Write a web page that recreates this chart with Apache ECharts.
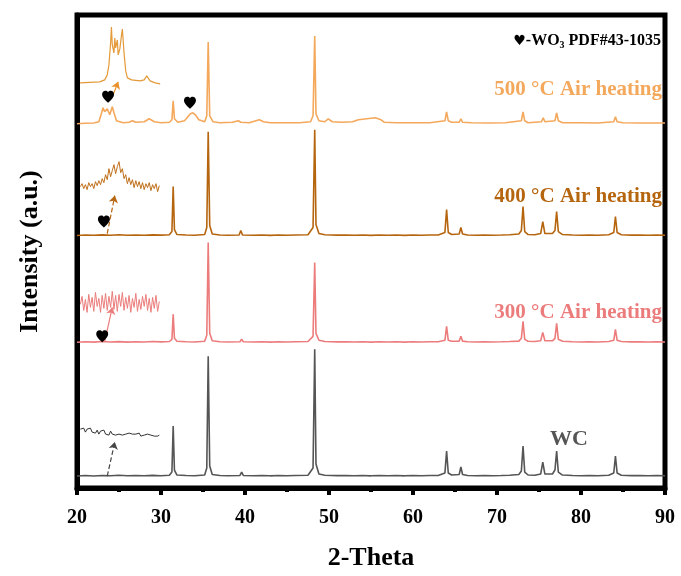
<!DOCTYPE html>
<html>
<head>
<meta charset="utf-8">
<script src="https://cdn.jsdelivr.net/npm/echarts@6/dist/echarts.min.js"></script>
<style>html,body{margin:0;padding:0;background:#fff}#c{width:681px;height:576px}</style>
</head>
<body>
<div id="c"></div>
<script>
// ---- data ----
var xTicks = [20, 30, 40, 50, 60, 70, 80, 90];
var sampleNames = ['WC', '300 °C Air heating', '400 °C Air heating', '500 °C Air heating'];
var offsets = [12, 146, 253, 365];          // vertical stacking offsets (a.u.)
var insetOffsets = [56, 184, 302, 406];

var wcPattern = [
[20,0],[21,0.5],[22,0],[23,0.6],[24,0.2],[25,0.8],[26,0.3],[27,0.6],[28,0.2],[29,0.7],[30,0.3],[31.0,0.8],[31.3,4],[31.45,50],[31.6,6],[31.9,1],
[33,0.5],[34,0.3],[35.2,1],[35.45,8],[35.62,120],[35.8,10],[36.1,1.5],[37,0.5],[38,0.3],[39.4,0.6],[39.6,4],[39.8,0.6],[41,0.3],[42,0.6],[43,0.2],[44,0.5],[45,0.3],[46,0.6],[47.5,0.8],[48.1,8],[48.3,127],[48.45,12],[48.8,2],[49.5,0.8],[51,0.4],[52,0.6],[53,0.3],[54,0.5],[55,0.2],[56,0.6],[57,0.3],[58,0.5],[59,0.2],[60,0.6],[61,0.3],[62,0.5],[63,0.6],[63.8,3],[64.0,25],[64.2,3],[64.6,1],[65.5,1.5],[65.7,9],[65.9,1.5],[66.5,0.5],[67.5,0.3],[68.5,0.6],[69.5,0.3],[70.5,0.5],[71.5,0.8],[72.6,1.5],[72.9,5],[73.1,30],[73.3,4],[73.7,1],[74.5,0.8],[75.2,2],[75.45,14],[75.7,2],[76.6,2],[76.9,6],[77.1,25],[77.3,4],[77.8,1],[79,0.5],[80,0.3],[81,0.6],[82,0.3],[83.3,0.8],[83.9,3],[84.1,20],[84.3,3],[84.8,0.8],[86,0.4],[87,0.6],[88,0.3],[89,0.5],[90,0.3]
];
var p300Pattern = [
[20,0],[21,0.6],[22,0.2],[23,0.8],[24,0.3],[25,0.7],[26,0.2],[27,0.6],[28,0.3],[29,0.8],[30,0.4],[31.0,0.8],[31.3,3],[31.45,28],[31.6,4],[31.9,1],
[33,0.5],[34,0.3],[35.2,1],[35.45,7],[35.62,100],[35.8,9],[36.1,1.5],[37,0.5],[38,0.3],[39.4,0.6],[39.6,3],[39.8,0.6],[41,0.3],[42,0.6],[43,0.2],[44,0.5],[45,0.3],[46,0.6],[47.5,0.8],[48.1,6],[48.3,80],[48.45,9],[48.8,2],[49.5,0.8],[51,0.4],[52,0.6],[53,0.3],[54,0.5],[55,0.2],[56,0.6],[57,0.3],[58,0.5],[59,0.2],[60,0.6],[61,0.3],[62,0.5],[63,0.6],[63.8,2],[64.0,16],[64.2,2],[64.6,1],[65.5,1.2],[65.7,6],[65.9,1.2],[66.5,0.5],[67.5,0.3],[68.5,0.6],[69.5,0.3],[70.5,0.5],[71.5,0.8],[72.6,1.2],[72.9,4],[73.1,21],[73.3,3],[73.7,1],[74.5,0.8],[75.2,1.5],[75.45,10],[75.7,1.5],[76.6,1.5],[76.9,4],[77.1,19],[77.3,3],[77.8,1],[79,0.5],[80,0.3],[81,0.6],[82,0.3],[83.3,0.8],[83.9,2],[84.1,13],[84.3,2],[84.8,0.8],[86,0.4],[87,0.6],[88,0.3],[89,0.5],[90,0.3]
];
var p400Pattern = [
[20,0],[21,0.5],[22,0.3],[23,0.7],[24,0.3],[25,0.8],[26,0.3],[27,0.6],[28,0.3],[29,0.7],[30,0.4],[31.0,0.8],[31.3,4],[31.45,49],[31.6,6],[31.9,1],
[33,0.5],[34,0.3],[35.2,1],[35.45,8],[35.62,104],[35.8,10],[36.1,1.5],[37,0.5],[38,0.3],[39.3,0.6],[39.5,5],[39.7,0.6],[41,0.3],[42,0.6],[43,0.2],[44,0.5],[45,0.3],[46,0.6],[47.5,0.8],[48.1,8],[48.3,106],[48.45,11],[48.8,2],[49.5,0.8],[51,0.4],[52,0.6],[53,0.3],[54,0.5],[55,0.2],[56,0.6],[57,0.3],[58,0.5],[59,0.2],[60,0.6],[61,0.3],[62,0.5],[63,0.6],[63.8,3],[64.0,26],[64.2,3],[64.6,1],[65.5,1.5],[65.7,8],[65.9,1.5],[66.5,0.5],[67.5,0.3],[68.5,0.6],[69.5,0.3],[70.5,0.5],[71.5,0.8],[72.6,1.5],[72.9,5],[73.1,29],[73.3,4],[73.7,1],[74.5,0.8],[75.2,2],[75.45,14],[75.7,2],[76.6,2],[76.9,5],[77.1,24],[77.3,4],[77.8,1],[79,0.5],[80,0.3],[81,0.6],[82,0.3],[83.3,0.8],[83.9,3],[84.1,19],[84.3,3],[84.8,0.8],[86,0.4],[87,0.6],[88,0.3],[89,0.5],[90,0.3]
];
var p500Pattern = [
[20,0],[21,0.5],[22,0.8],[22.6,2],[22.9,10],[23.1,16],[23.3,12],[23.6,15],[23.9,9],[24.2,17],[24.4,11],[24.7,3],[25.5,1],[26.2,1.5],[26.6,3],[27.0,1.5],[28.0,2],[28.6,5],[29.2,2],[30,1],[31.0,1.5],[31.3,4],[31.45,23],[31.6,5],[32,1.5],[32.8,3],[33.2,7],[33.5,10],[33.8,11],[34.1,9],[34.5,4],[35.2,2],[35.45,8],[35.62,82],[35.8,8],[36.2,2],[37,1],[38.5,1.5],[39.2,3],[39.5,1.5],[40.5,1],[41.3,3],[41.7,4],[42.2,2],[43,1],[45,1],[46.5,1],[47.8,2],[48.1,8],[48.3,88],[48.45,10],[48.8,3],[49.5,2],[49.9,5],[50.4,2],[51.5,1.5],[52.8,2],[53.5,4],[54.5,5],[55.5,6],[56.2,4],[56.6,1.5],[58,1],[60,1],[62,1],[63.8,3],[64.0,12],[64.2,3],[64.6,1.5],[65.5,1.5],[65.7,5],[65.9,1.5],[67,1],[69,0.8],[71,1],[72.9,3],[73.1,12],[73.3,3],[73.7,1],[75.3,2],[75.5,6],[75.7,2],[76.9,3],[77.1,11],[77.3,3],[77.8,1],[80,1],[82,0.8],[83.9,2],[84.1,7],[84.3,2],[85,1],[87,0.8],[90,0.8]
];

// zoomed insets (20.4 - 29.8 deg region)
var insetX = [20.4,20.6,20.8,21.0,21.2,21.4,21.6,21.8,22.0,22.2,22.4,22.6,22.8,23.0,23.2,23.4,23.6,23.8,24.0,24.2,24.4,24.6,24.8,25.0,25.2,25.4,25.6,25.8,26.0,26.2,26.4,26.6,26.8,27.0,27.2,27.4,27.6,27.8,28.0,28.2,28.4,28.6,28.8,29.0,29.2,29.4,29.6,29.8];
var insetWC  = [3,1,4,0,3,1,4,0,2,-1,2,-2,1,-1,2,-2,0,-3,1,-2,0,-3,-1,-2,0,-3,-1,-2,-3,-1,-3,-2,-4,-2,-3,-1,-4,-2,-3,-4,-2,-4,-3,-2,-4,-3,-4,-3];
var inset300 = [0,8,-6,5,-8,10,-3,7,-7,12,-2,6,-8,9,-4,11,-6,8,-3,13,-5,9,-7,10,-2,12,-6,7,-4,9,-8,6,-3,11,-7,5,-5,8,-2,10,-6,6,-8,7,-4,9,-7,3];
var inset400 = [0,3,-2,2,-3,4,0,3,-2,5,1,6,2,8,4,12,7,18,10,16,22,13,20,25,14,18,8,12,3,9,2,7,-1,6,0,5,-2,4,-3,3,-1,4,-4,2,-2,3,-5,1];
var inset500 = [
[20.36,0],[21.5,0.5],[22.7,1],[23.3,3],[23.6,8],[23.8,18],[24.0,40],[24.1,56],[24.2,38],[24.4,30],[24.5,45],[24.6,35],[24.8,43],[24.9,28],[25.1,34],[25.3,48],[25.4,54],[25.6,30],[25.8,12],[26.0,5],[26.5,3],[27.5,2],[28.0,3],[28.3,7],[28.7,2],[29.3,0],[29.9,-1]
];

// annotations
var heartPoints = [[23.7,392],[33.45,386],[23.2,267],[23.0,152]];
var arrowFrom = [[23.6,12],[23.3,147],[23.6,255],[24.3,394]];
var arrowTo   = [[24.5,46],[24.2,181],[24.5,293],[24.9,407]];

var colors = ['#555555', '#ec7c7c', '#b6650f', '#f4a85c'];
var insetColors = ['#333333', '#ec7c7c', '#c0701a', '#e49a38'];
var arrowColors = ['#444444', '#ec7c7c', '#b6650f', '#e8902a'];
var arrowTypes = ['dashed', 'solid', 'dashed', 'solid'];

// ---- build ----
var patterns = [wcPattern, p300Pattern, p400Pattern, p500Pattern];
var insets = [insetWC, inset300, inset400];
var series = [];
patterns.forEach(function (p, i) {
  series.push({
    type: 'line', name: sampleNames[i], showSymbol: false, symbol: 'none',
    lineStyle: { color: colors[i], width: 1.6 }, silent: true, z: 3,
    data: p.map(function (d) { return [d[0], d[1] + offsets[i]]; })
  });
});
insets.forEach(function (arr, i) {
  series.push({
    type: 'line', showSymbol: false, symbol: 'none',
    lineStyle: { color: insetColors[i], width: 1 }, silent: true, z: 3,
    data: arr.map(function (v, k) { return [insetX[k], v + insetOffsets[i]]; })
  });
});
series.push({
  type: 'line', showSymbol: false, symbol: 'none',
  lineStyle: { color: insetColors[3], width: 1.2 }, silent: true, z: 3,
  data: inset500.map(function (d) { return [d[0], d[1] + insetOffsets[3]]; })
});
series.push({
  type: 'lines', coordinateSystem: 'cartesian2d', silent: true, z: 4,
  symbol: ['none', 'arrow'], symbolSize: 7,
  data: arrowFrom.map(function (f, i) {
    return { coords: [f, arrowTo[i]], lineStyle: { color: arrowColors[i], type: arrowTypes[i], width: 1.2, opacity: 1, curveness: 0 } };
  })
});
series.push({
  type: 'scatter', silent: true, z: 5,
  symbol: 'path://M12 21.35l-1.45-1.32C5.4 15.36 2 12.28 2 8.5 2 5.42 4.42 3 7.5 3c1.74 0 3.41.81 4.5 2.09C13.09 3.81 14.76 3 16.5 3 19.58 3 22 5.42 22 8.5c0 3.78-3.4 6.86-8.55 11.54L12 21.35z',
  symbolSize: 12, itemStyle: { color: '#000', opacity: 1 },
  data: heartPoints
});

var serif = '"Liberation Serif", "Times New Roman", serif';
var chart = echarts.init(document.getElementById('c'), null, { renderer: 'canvas' });
chart.setOption({
  animation: false,
  backgroundColor: '#fff',
  grid: { left: 77, right: 16, top: 15, bottom: 87, show: true, borderColor: '#000', borderWidth: 5, backgroundColor: 'transparent' },
  xAxis: {
    type: 'value', min: xTicks[0], max: xTicks[xTicks.length - 1], interval: 10,
    name: '2-Theta', nameLocation: 'middle', nameGap: 57,
    nameTextStyle: { fontFamily: serif, fontWeight: 'bold', fontSize: 26, color: '#000' },
    axisLine: { show: true, lineStyle: { color: '#000', width: 5 } },
    axisTick: { show: true, inside: false, length: 7, lineStyle: { color: '#000', width: 4 } },
    minorTick: { show: true, splitNumber: 2, length: 4, lineStyle: { color: '#000', width: 4 } },
    axisLabel: { fontFamily: serif, fontWeight: 'bold', fontSize: 20, color: '#000', margin: 20 },
    splitLine: { show: false }
  },
  yAxis: {
    type: 'value', min: 0, max: 474,
    name: 'Intensity (a.u.)', nameLocation: 'middle', nameGap: 34, nameRotate: 90,
    nameTextStyle: { fontFamily: serif, fontWeight: 'bold', fontSize: 26, color: '#000' },
    axisLine: { show: true, lineStyle: { color: '#000', width: 5 } },
    axisTick: { show: false }, axisLabel: { show: false }, splitLine: { show: false }
  },
  graphic: [
    { type: 'text', right: 20, top: 33, z: 10, style: { text: '{h|♥}-WO{s|3} PDF#43-1035', font: 'bold 16px ' + serif, fill: '#000',
      rich: { h: { font: '14px "DejaVu Sans"', fill: '#000' }, s: { font: 'bold 10px ' + serif, fill: '#000', padding: [8, 0, 0, 0] } } } },
    { type: 'text', right: 19, top: 79, z: 10, style: { text: sampleNames[3], font: 'bold 21px ' + serif, fill: colors[3] } },
    { type: 'text', right: 19, top: 186, z: 10, style: { text: sampleNames[2], font: 'bold 21px ' + serif, fill: colors[2] } },
    { type: 'text', right: 19, top: 302, z: 10, style: { text: sampleNames[1], font: 'bold 21px ' + serif, fill: colors[1] } },
    { type: 'text', left: 550, top: 428, z: 10, style: { text: sampleNames[0], font: 'bold 22px ' + serif, fill: colors[0] } }
  ],
  series: series
});
</script>
</body>
</html>
